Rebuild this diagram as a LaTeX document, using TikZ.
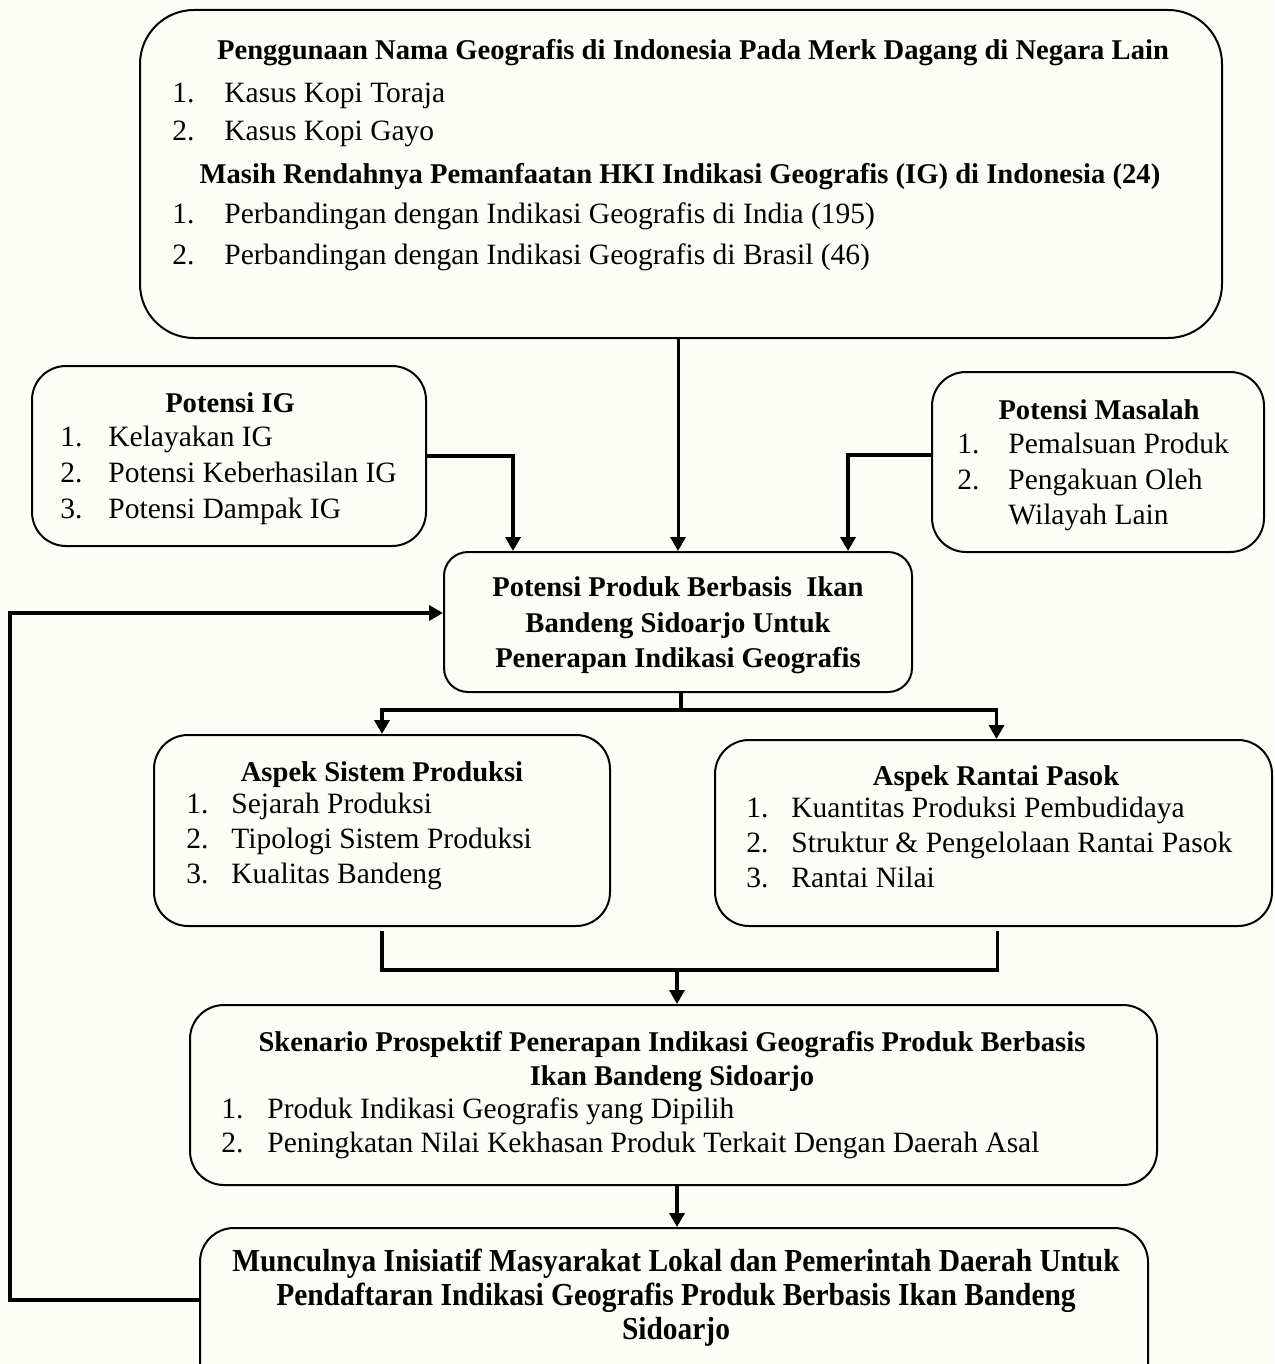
\documentclass[tikz,border=0pt]{standalone}
\usepackage{fontspec}
\setmainfont{Liberation Serif}
\newfontfamily\condfont[FakeStretch=0.92]{Liberation Serif}
\usetikzlibrary{arrows.meta}
\definecolor{bg}{RGB}{253,253,248}
\tikzset{
  box/.style={draw, line width=1pt, rounded corners=#1, inner sep=0pt},
  conn/.style={line width=1.8pt, -{Triangle[length=7pt,width=7.5pt]}},
  plain/.style={line width=1.8pt},
  txt/.style={anchor=base west, inner sep=0pt, font=\fontsize{14.75}{17}\selectfont},
  num/.style={anchor=base west, inner sep=0pt, font=\fontsize{14.75}{17}\selectfont},
  ttl/.style={anchor=base, inner sep=0pt, font=\bfseries\fontsize{14.3}{17}\selectfont},
  cttl/.style={anchor=base, inner sep=0pt, font=\condfont\bfseries\fontsize{16}{17}\selectfont},
}
\begin{document}
\begin{tikzpicture}[x=0.5pt,y=-0.5pt]
\clip (0,0) rectangle (1274,1364);
\fill[bg] (0,0) rectangle (1274,1364);
% boxes
\node[box=27pt, minimum width=541pt, minimum height=164pt] (top) at (681,174) {};
\node[box=17pt, minimum width=197pt, minimum height=90pt] (pig) at (229,456) {};
\node[box=17pt, minimum width=166pt, minimum height=90pt] (pmas) at (1098,462) {};
\node[box=12pt, minimum width=234pt, minimum height=70pt] (cent) at (678,622) {};
\node[box=17pt, minimum width=228pt, minimum height=95.5pt] (asp) at (382,830.5) {};
\node[box=17pt, minimum width=278.5pt, minimum height=93pt] (arp) at (993.5,833) {};
\node[box=17pt, minimum width=483.5pt, minimum height=90pt] (sken) at (673.5,1095) {};
\node[box=17pt, minimum width=474pt, minimum height=86pt] (munc) at (674,1314) {};
% top box text
\node[ttl] (t1) at (693,60) {Penggunaan Nama Geografis di Indonesia Pada Merk Dagang di Negara Lain};
\node[num] (t1n1) at (172,103) {1.};
\node[txt] (t1i1) at (224,103) {Kasus Kopi Toraja};
\node[num] (t1n2) at (172,141) {2.};
\node[txt] (t1i2) at (224,141) {Kasus Kopi Gayo};
\node[ttl] (t2) at (680,184) {Masih Rendahnya Pemanfaatan HKI Indikasi Geografis (IG) di Indonesia (24)};
\node[num] (t2n1) at (172,224) {1.};
\node[txt] (t2i1) at (224,224) {Perbandingan dengan Indikasi Geografis di India (195)};
\node[num] (t2n2) at (172,264) {2.};
\node[txt] (t2i2) at (224,264) {Perbandingan dengan Indikasi Geografis di Brasil (46)};
% potensi IG
\node[ttl] (p1) at (230,412) {Potensi IG};
\node[num] (p1n1) at (60,446) {1.};
\node[txt] (p1i1) at (108,446) {Kelayakan IG};
\node[num] (p1n2) at (60,482) {2.};
\node[txt] (p1i2) at (108,482) {Potensi Keberhasilan IG};
\node[num] (p1n3) at (60,518) {3.};
\node[txt] (p1i3) at (108,518) {Potensi Dampak IG};
% potensi masalah
\node[ttl] (p2) at (1099,419) {Potensi Masalah};
\node[num] (p2n1) at (957,453) {1.};
\node[txt] (p2i1) at (1008,453) {Pemalsuan Produk};
\node[num] (p2n2) at (957,489) {2.};
\node[txt] (p2i2) at (1008,489) {Pengakuan Oleh};
\node[txt] (p2i3) at (1008,524) {Wilayah Lain};
% central
\node[ttl] (c1) at (678,596) {Potensi Produk Berbasis\ \ Ikan};
\node[ttl] (c2) at (678,632) {Bandeng Sidoarjo Untuk};
\node[ttl] (c3) at (678,667) {Penerapan Indikasi Geografis};
% aspek sistem produksi
\node[ttl] (a1) at (382,781) {Aspek Sistem Produksi};
\node[num] (a1n1) at (186,813) {1.};
\node[txt] (a1i1) at (231,813) {Sejarah Produksi};
\node[num] (a1n2) at (186,848) {2.};
\node[txt] (a1i2) at (231,848) {Tipologi Sistem Produksi};
\node[num] (a1n3) at (186,883) {3.};
\node[txt] (a1i3) at (231,883) {Kualitas Bandeng};
% aspek rantai pasok
\node[ttl] (b1) at (996,785) {Aspek Rantai Pasok};
\node[num] (b1n1) at (746,817) {1.};
\node[txt] (b1i1) at (791,817) {Kuantitas Produksi Pembudidaya};
\node[num] (b1n2) at (746,852) {2.};
\node[txt] (b1i2) at (791,852) {Struktur \& Pengelolaan Rantai Pasok};
\node[num] (b1n3) at (746,887) {3.};
\node[txt] (b1i3) at (791,887) {Rantai Nilai};
% skenario
\node[ttl] (s1) at (672,1051) {Skenario Prospektif Penerapan Indikasi Geografis Produk Berbasis};
\node[ttl] (s2) at (672,1085) {Ikan Bandeng Sidoarjo};
\node[num] (s1n1) at (221,1118) {1.};
\node[txt] (s1i1) at (267,1118) {Produk Indikasi Geografis yang Dipilih};
\node[num] (s1n2) at (221,1152) {2.};
\node[txt] (s1i2) at (267,1152) {Peningkatan Nilai Kekhasan Produk Terkait Dengan Daerah Asal};
% munculnya
\node[cttl] (m1) at (676,1271) {Munculnya Inisiatif Masyarakat Lokal dan Pemerintah Daerah Untuk};
\node[cttl] (m2) at (676,1305) {Pendaftaran Indikasi Geografis Produk Berbasis Ikan Bandeng};
\node[cttl] (m3) at (676,1339) {Sidoarjo};
% connectors
\draw[conn, line width=1.5pt] (cent.north |- top.south) -- (cent.north);
\draw[conn] (pig.east) -| ([xshift=-82.5pt]cent.north);
\draw[conn] ([yshift=3.5pt]pmas.west) -| ([xshift=85pt]cent.north);
\coordinate (f1) at (681,710);
\draw[plain] (cent.south -| f1) -- (f1);
\draw[conn] (f1) -| (asp.north);
\draw[conn] (f1) -| ([xshift=1.5pt]arp.north);
\coordinate (f2) at (677,970);
\draw[plain] ([yshift=-2pt]asp.south) |- (f2) -| ([xshift=2pt,yshift=-2pt]arp.south);
\draw[conn] (f2) -- (f2 |- sken.north);
\draw[conn] (sken.south -| f2) -- (f2 |- munc.north);
\coordinate (lbot) at (10,1300);
\coordinate (ltop) at (10,613);
\draw[conn, rounded corners=0pt] (lbot -| munc.west) -- (lbot) -- (ltop) -- (ltop -| cent.west);
\end{tikzpicture}
\end{document}
